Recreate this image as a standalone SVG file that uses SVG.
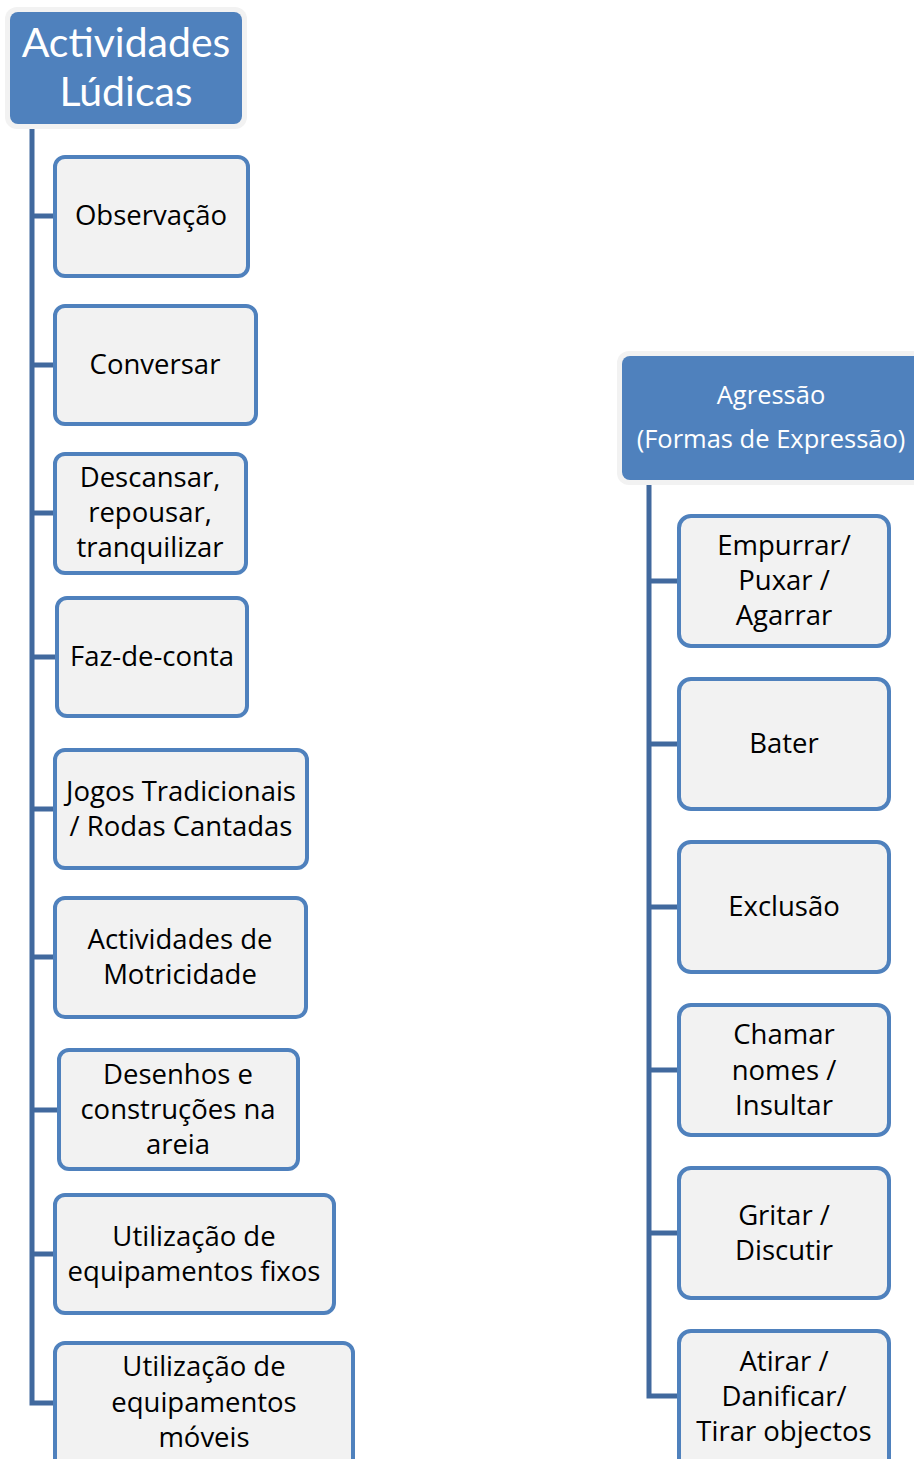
<svg xmlns="http://www.w3.org/2000/svg" width="914" height="1459" viewBox="0 0 914 1459">
<style>
.hdrO{fill:#f2f2f2;}
.hdr{fill:#4f81bd;}
.box{fill:#f2f2f2;stroke:#4f81bd;stroke-width:4;}
.ht{font-family:"Open Sans","Liberation Sans",sans-serif;fill:#ffffff;text-anchor:middle;}
.hl{font-family:Lato,"Open Sans","Liberation Sans",sans-serif;fill:#ffffff;text-anchor:middle;font-size:41px;}
.t{font-family:"Open Sans","Liberation Sans",sans-serif;font-size:27.5px;fill:#000000;text-anchor:middle;}
.c{fill:none;stroke:#41699e;stroke-width:5;}
</style>
<rect width="914" height="1459" fill="#ffffff"/>
<g id="connectors">
<path class="c" d="M32 126 V1403 H57 M32 216 H55 M32 365 H55 M32 513 H55 M32 657 H57 M32 809 H55 M32 957 H55 M32 1110 H59 M32 1254 H55"/>
<path class="c" d="M649 482 V1396 H679 M649 581 H679 M649 744 H679 M649 907 H679 M649 1070 H679 M649 1233 H679"/>
</g>
<g id="root-left">
<rect class="hdrO" x="5" y="7" width="242" height="122" rx="12"/>
<rect class="hdr" x="10" y="12" width="232" height="112" rx="8"/>
<text class="hl" x="126" y="57">Actividades</text>
<text class="hl" x="126" y="106">Lúdicas</text>
</g>
<g id="n-observacao"><rect class="box" x="55" y="157" width="193" height="119" rx="10"/><text class="t" x="151" y="225">Observação</text></g>
<g id="n-conversar"><rect class="box" x="55" y="306" width="201" height="118" rx="10"/><text class="t" x="155" y="374">Conversar</text></g>
<g id="n-descansar"><rect class="box" x="55" y="454" width="191" height="119" rx="10"/><text class="t" x="150" y="487">Descansar,</text><text class="t" x="150" y="522">repousar,</text><text class="t" x="150" y="557">tranquilizar</text></g>
<g id="n-faz"><rect class="box" x="57" y="598" width="190" height="118" rx="10"/><text class="t" x="152" y="666">Faz-de-conta</text></g>
<g id="n-jogos"><rect class="box" x="55" y="750" width="252" height="118" rx="10"/><text class="t" x="181" y="801">Jogos Tradicionais</text><text class="t" x="181" y="836">/ Rodas Cantadas</text></g>
<g id="n-motricidade"><rect class="box" x="55" y="898" width="251" height="119" rx="10"/><text class="t" x="180" y="949">Actividades de</text><text class="t" x="180" y="984">Motricidade</text></g>
<g id="n-desenhos"><rect class="box" x="59" y="1050" width="239" height="119" rx="10"/><text class="t" x="178" y="1084">Desenhos e</text><text class="t" x="178" y="1119">construções na</text><text class="t" x="178" y="1154">areia</text></g>
<g id="n-fixos"><rect class="box" x="55" y="1195" width="279" height="118" rx="10"/><text class="t" x="194" y="1246">Utilização de</text><text class="t" x="194" y="1281">equipamentos fixos</text></g>
<g id="n-moveis"><rect class="box" x="55" y="1343" width="298" height="130" rx="10"/><text class="t" x="204" y="1376">Utilização de</text><text class="t" x="204" y="1412">equipamentos</text><text class="t" x="204" y="1447">móveis</text></g>
<g id="root-right">
<rect class="hdrO" x="617" y="351" width="310" height="134" rx="12"/>
<rect class="hdr" x="622" y="356" width="300" height="124" rx="8"/>
<text class="ht" x="771" y="404" font-size="25.5" fill="#eef2f8">Agressão</text>
<text class="ht" x="771" y="448" font-size="25.5">(Formas de Expressão)</text>
</g>
<g id="n-empurrar"><rect class="box" x="679" y="516" width="210" height="130" rx="12"/><text class="t" x="784" y="555">Empurrar/</text><text class="t" x="784" y="590">Puxar /</text><text class="t" x="784" y="625">Agarrar</text></g>
<g id="n-bater"><rect class="box" x="679" y="679" width="210" height="130" rx="12"/><text class="t" x="784" y="753">Bater</text></g>
<g id="n-exclusao"><rect class="box" x="679" y="842" width="210" height="130" rx="12"/><text class="t" x="784" y="916">Exclusão</text></g>
<g id="n-chamar"><rect class="box" x="679" y="1005" width="210" height="130" rx="12"/><text class="t" x="784" y="1044">Chamar</text><text class="t" x="784" y="1080">nomes /</text><text class="t" x="784" y="1115">Insultar</text></g>
<g id="n-gritar"><rect class="box" x="679" y="1168" width="210" height="130" rx="12"/><text class="t" x="784" y="1225">Gritar /</text><text class="t" x="784" y="1260">Discutir</text></g>
<g id="n-atirar"><rect class="box" x="679" y="1331" width="210" height="140" rx="12"/><text class="t" x="784" y="1371">Atirar /</text><text class="t" x="784" y="1406">Danificar/</text><text class="t" x="784" y="1441">Tirar objectos</text></g>
</svg>
